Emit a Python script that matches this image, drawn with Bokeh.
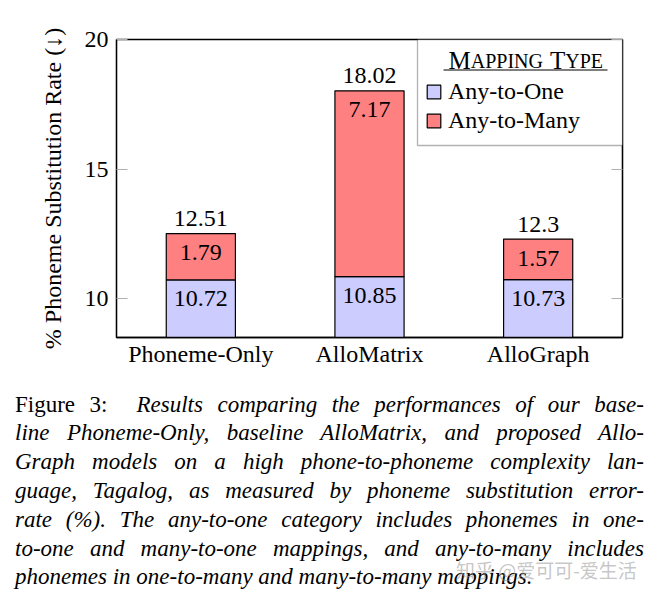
from bokeh.plotting import figure
from bokeh.models import (ColumnDataSource, FixedTicker, LinearAxis, Legend, LegendItem,
                          Label, BoxAnnotation, Range1d, FactorRange, Div)
from bokeh.layouts import column
from bokeh.core.properties import value
from bokeh.embed import file_html
from bokeh.resources import INLINE

# ---- data ----
categories = ["Phoneme-Only", "AlloMatrix", "AlloGraph"]
any_to_one = [10.72, 10.85, 10.73]
any_to_many = [1.79, 7.17, 1.57]
series_names = ["Any-to-One", "Any-to-Many"]
y_ticks = [10, 15, 20]
y_label = "% Phoneme Substitution Rate (\u2193)"
caption_lines = [
    "line Phoneme-Only, baseline AlloMatrix, and proposed Allo-",
    "Graph models on a high phone-to-phoneme complexity lan-",
    "guage, Tagalog, as measured by phoneme substitution error-",
    "rate (%). The any-to-one category includes phonemes in one-",
    "to-one and many-to-one mappings, and any-to-many includes",
    "phonemes in one-to-many and many-to-many mappings.",
]
caption_head = "Figure 3:"
caption_first = "Results comparing the performances of our base-"
watermark = "知乎 @爱可可-爱生活"

FONT = "Liberation Serif"
BLUE = "#ccccff"
RED = "#ff8080"

totals = [round(a + b, 2) for a, b in zip(any_to_one, any_to_many)]
fmt = lambda v: f"{v:g}"
src = ColumnDataSource(dict(
    cat=categories,
    base=[0] * len(categories),
    one=any_to_one,
    tot=totals,
    one_lbl=[fmt(v) for v in any_to_one],
    many_lbl=[fmt(v) for v in any_to_many],
    tot_lbl=[fmt(v) for v in totals],
))

p = figure(width=658, height=380, x_range=FactorRange(*categories, range_padding=0),
           y_range=Range1d(8.5, 20), output_backend="svg", toolbar_location=None,
           min_border_left=116, min_border_right=36, min_border_top=39, min_border_bottom=43)
p.x_range.range_padding = 0
p.grid.visible = False
p.outline_line_color = "black"
p.outline_line_width = 1.3
p.background_fill_color = "white"
p.border_fill_color = "white"

r0 = p.vbar(x="cat", bottom="base", top="one", width=0.41, source=src,
            fill_color=BLUE, line_color="black", line_width=1.2)
r1 = p.vbar(x="cat", bottom="one", top="tot", width=0.41, source=src,
            fill_color=RED, line_color="black", line_width=1.2)

common = dict(source=src, text_align="center", text_baseline="middle",
              text_font=value(FONT), text_font_size=value("24px"), text_color="black")
p.text(x="cat", y="one", text="one_lbl", y_offset=19, **common)
p.text(x="cat", y="tot", text="many_lbl", y_offset=19, **common)
p.text(x="cat", y="tot", text="tot_lbl", y_offset=-15, **common)

# axes
yax = p.yaxis[0]
yax.ticker = FixedTicker(ticks=y_ticks)
yax.major_tick_in = 11
yax.major_tick_out = 0
yax.major_tick_line_color = "#b0b0b0"
yax.minor_tick_line_color = None
yax.axis_line_color = "black"
yax.axis_line_width = 1.3
yax.major_label_text_font = FONT
yax.major_label_text_font_size = "24px"
yax.major_label_text_color = "black"
yax.major_label_standoff = 8
yax.axis_label = y_label
yax.axis_label_text_font = FONT
yax.axis_label_text_font_size = "24px"
yax.axis_label_text_font_style = "normal"
yax.axis_label_text_color = "black"
yax.axis_label_standoff = 16

rax = LinearAxis(ticker=FixedTicker(ticks=y_ticks), major_tick_in=11, major_tick_out=0,
                 major_tick_line_color="#b0b0b0", minor_tick_line_color=None,
                 axis_line_color="black", axis_line_width=1.3,
                 major_label_overrides={t: "" for t in y_ticks})
p.add_layout(rax, "right")

xax = p.xaxis[0]
xax.major_tick_line_color = None
xax.minor_tick_line_color = None
xax.axis_line_color = "black"
xax.axis_line_width = 1.3
xax.major_label_text_font = FONT
xax.major_label_text_font_size = "24px"
xax.major_label_text_color = "black"
xax.major_label_standoff = -3

# legend: frame box, small-caps title, items (screen units relative to plot frame)
frame_bottom = 337
frame_left = 116
box_l, box_r, box_t, box_b = 417, 622, 39, 145
p.add_layout(BoxAnnotation(left=box_l - frame_left, right=box_r - frame_left,
                           top=frame_bottom - box_t, bottom=frame_bottom - box_b,
                           left_units="screen", right_units="screen",
                           top_units="screen", bottom_units="screen",
                           fill_color="white", fill_alpha=1,
                           line_color="black", line_width=1.3, level="annotation"))

legend = Legend(items=[LegendItem(label=series_names[0], renderers=[r0]),
                       LegendItem(label=series_names[1], renderers=[r1])],
                location=(box_l - frame_left + 8, frame_bottom - 143.5 + 9), margin=0, padding=9,
                border_line_color=None, background_fill_alpha=0,
                label_text_font=FONT, label_text_font_size="24px", label_text_color="black",
                glyph_width=17, glyph_height=17, label_standoff=6,
                label_width=150, label_height=29, spacing=0)
p.add_layout(legend, "center")

base_y = frame_bottom - 68 + 8
pieces = [("M", 25, 0), ("APPING", 20, 22.2), ("T", 25, 22.2 + 72.2 + 7),
          ("YPE", 20, 22.2 + 72.2 + 7 + 15.3)]
x0 = 448 - frame_left
for txt, size, dx in pieces:
    p.add_layout(Label(x=x0 + dx, y=base_y, x_units="screen", y_units="screen", text=txt,
                       text_font=FONT, text_font_size=f"{size}px", text_color="black",
                       text_align="left", text_baseline="alphabetic"))
ul_y = frame_bottom - 69.5
p.add_layout(BoxAnnotation(left=443 - frame_left, right=607 - frame_left,
                           bottom=ul_y - 0.6, top=ul_y + 0.6,
                           left_units="screen", right_units="screen",
                           top_units="screen", bottom_units="screen",
                           fill_color="black", fill_alpha=1, line_color=None))

# caption
line_style = ("text-align:justify;text-align-last:justify;height:28.8px;")
html = ['<div style="position:relative;width:658px;height:219px;background:white;'
        f"font-family:'{FONT}';font-size:23px;line-height:28.8px;color:#000;\">"]
html.append('<div style="position:absolute;left:15px;top:10.6px;width:629px;">')
html.append(f'<div style="{line_style}"><span>{caption_head}</span>&nbsp; '
            f'<i>{caption_first}</i></div>')
for i, ln in enumerate(caption_lines):
    st = line_style if i < len(caption_lines) - 1 else "height:28.8px;"
    html.append(f'<div style="{st}"><i>{ln}</i></div>')
html.append('</div>')
html.append('<div style="position:absolute;left:456px;top:178px;white-space:nowrap;'
            "font-family:'Noto Sans CJK SC';font-size:19px;line-height:24px;"
            f'color:rgba(150,150,150,0.55);">{watermark}</div>')
html.append('</div>')
div = Div(text="".join(html), width=658, height=219, margin=(0, 0, 0, 0))

layout = column(p, div, spacing=0)
open("out.html", "w").write(file_html(layout, INLINE))
